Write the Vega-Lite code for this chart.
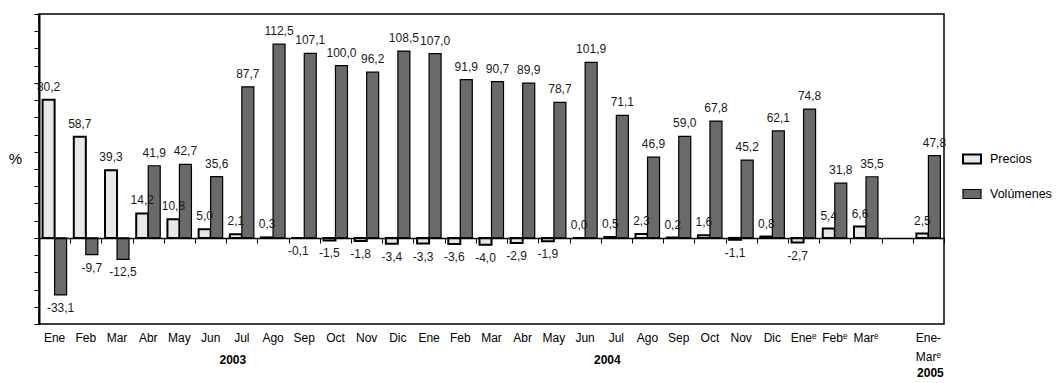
{
  "$schema": "https://vega.github.io/schema/vega-lite/v6.json",
  "width": 905,
  "height": 310,
  "autosize": "none",
  "padding": {"left": 39, "top": 14, "right": 119, "bottom": 59},
  "background": "white",
  "config": {
    "view": {"stroke": "black", "strokeWidth": 1.5},
    "font": "Liberation Sans",
    "locale": {"number": {"decimal": ",", "thousands": ".", "grouping": [3], "currency": ["", ""], "minus": "-"}}
  },
  "data": {"values": [
    {"cat": "Ene|2003", "serie": "Precios", "valor": 80.2},
    {"cat": "Feb|2003", "serie": "Precios", "valor": 58.7},
    {"cat": "Mar|2003", "serie": "Precios", "valor": 39.3},
    {"cat": "Abr|2003", "serie": "Precios", "valor": 14.2},
    {"cat": "May|2003", "serie": "Precios", "valor": 10.8},
    {"cat": "Jun|2003", "serie": "Precios", "valor": 5.0},
    {"cat": "Jul|2003", "serie": "Precios", "valor": 2.1},
    {"cat": "Ago|2003", "serie": "Precios", "valor": 0.3},
    {"cat": "Sep|2003", "serie": "Precios", "valor": -0.1},
    {"cat": "Oct|2003", "serie": "Precios", "valor": -1.5},
    {"cat": "Nov|2003", "serie": "Precios", "valor": -1.8},
    {"cat": "Dic|2003", "serie": "Precios", "valor": -3.4},
    {"cat": "Ene|2004", "serie": "Precios", "valor": -3.3},
    {"cat": "Feb|2004", "serie": "Precios", "valor": -3.6},
    {"cat": "Mar|2004", "serie": "Precios", "valor": -4.0},
    {"cat": "Abr|2004", "serie": "Precios", "valor": -2.9},
    {"cat": "May|2004", "serie": "Precios", "valor": -1.9},
    {"cat": "Jun|2004", "serie": "Precios", "valor": 0.0},
    {"cat": "Jul|2004", "serie": "Precios", "valor": 0.5},
    {"cat": "Ago|2004", "serie": "Precios", "valor": 2.3},
    {"cat": "Sep|2004", "serie": "Precios", "valor": 0.2},
    {"cat": "Oct|2004", "serie": "Precios", "valor": 1.6},
    {"cat": "Nov|2004", "serie": "Precios", "valor": -1.1},
    {"cat": "Dic|2004", "serie": "Precios", "valor": 0.8},
    {"cat": "Eneᵉ|2005", "serie": "Precios", "valor": -2.7},
    {"cat": "Febᵉ|2005", "serie": "Precios", "valor": 5.4},
    {"cat": "Marᵉ|2005", "serie": "Precios", "valor": 6.6},
    {"cat": "Ene-Marᵉ|2005", "serie": "Precios", "valor": 2.5},
    {"cat": "Ene|2003", "serie": "Volúmenes", "valor": -33.1},
    {"cat": "Feb|2003", "serie": "Volúmenes", "valor": -9.7},
    {"cat": "Mar|2003", "serie": "Volúmenes", "valor": -12.5},
    {"cat": "Abr|2003", "serie": "Volúmenes", "valor": 41.9},
    {"cat": "May|2003", "serie": "Volúmenes", "valor": 42.7},
    {"cat": "Jun|2003", "serie": "Volúmenes", "valor": 35.6},
    {"cat": "Jul|2003", "serie": "Volúmenes", "valor": 87.7},
    {"cat": "Ago|2003", "serie": "Volúmenes", "valor": 112.5},
    {"cat": "Sep|2003", "serie": "Volúmenes", "valor": 107.1},
    {"cat": "Oct|2003", "serie": "Volúmenes", "valor": 100.0},
    {"cat": "Nov|2003", "serie": "Volúmenes", "valor": 96.2},
    {"cat": "Dic|2003", "serie": "Volúmenes", "valor": 108.5},
    {"cat": "Ene|2004", "serie": "Volúmenes", "valor": 107.0},
    {"cat": "Feb|2004", "serie": "Volúmenes", "valor": 91.9},
    {"cat": "Mar|2004", "serie": "Volúmenes", "valor": 90.7},
    {"cat": "Abr|2004", "serie": "Volúmenes", "valor": 89.9},
    {"cat": "May|2004", "serie": "Volúmenes", "valor": 78.7},
    {"cat": "Jun|2004", "serie": "Volúmenes", "valor": 101.9},
    {"cat": "Jul|2004", "serie": "Volúmenes", "valor": 71.1},
    {"cat": "Ago|2004", "serie": "Volúmenes", "valor": 46.9},
    {"cat": "Sep|2004", "serie": "Volúmenes", "valor": 59.0},
    {"cat": "Oct|2004", "serie": "Volúmenes", "valor": 67.8},
    {"cat": "Nov|2004", "serie": "Volúmenes", "valor": 45.2},
    {"cat": "Dic|2004", "serie": "Volúmenes", "valor": 62.1},
    {"cat": "Eneᵉ|2005", "serie": "Volúmenes", "valor": 74.8},
    {"cat": "Febᵉ|2005", "serie": "Volúmenes", "valor": 31.8},
    {"cat": "Marᵉ|2005", "serie": "Volúmenes", "valor": 35.5},
    {"cat": "Ene-Marᵉ|2005", "serie": "Volúmenes", "valor": 47.8}
  ]},
  "encoding": {
    "y": {
      "field": "valor", "type": "quantitative",
      "scale": {"domain": [-50, 130], "nice": false, "zero": false},
      "axis": {
        "orient": "left", "labels": false, "grid": false,
        "values": [-50, -40, -30, -20, -10, 0, 10, 20, 30, 40, 50, 60, 70, 80, 90, 100, 110, 120, 130],
        "domainColor": "black", "domainWidth": 2, "tickColor": "black", "tickSize": 5, "tickWidth": 1,
        "title": "%", "titleAngle": 0, "titleX": -24, "titleY": 144, "titleAlign": "center",
        "titleBaseline": "middle", "titleFontSize": 15, "titleFontWeight": "normal", "titleFont": "Liberation Sans", "titleColor": "black"
      }
    },
    "xOffset": {"field": "serie", "type": "nominal", "sort": ["Precios", "Volúmenes"], "scale": {"paddingInner": 0, "paddingOuter": 0.3}}
  },
  "layer": [
    {
      "mark": {"type": "bar", "stroke": "black"},
      "encoding": {
        "x": {
          "field": "cat", "type": "nominal",
          "scale": {"domain": ["Ene|2003","Feb|2003","Mar|2003","Abr|2003","May|2003","Jun|2003","Jul|2003","Ago|2003","Sep|2003","Oct|2003","Nov|2003","Dic|2003","Ene|2004","Feb|2004","Mar|2004","Abr|2004","May|2004","Jun|2004","Jul|2004","Ago|2004","Sep|2004","Oct|2004","Nov|2004","Dic|2004","Eneᵉ|2005","Febᵉ|2005","Marᵉ|2005"," ","Ene-Marᵉ|2005"], "paddingInner": 0, "paddingOuter": 0},
          "axis": {"orient": "bottom", "offset": -86, "labels": false, "title": null, "tickBand": "extent", "ticks": true, "tickSize": 5, "tickColor": "black", "domain": true, "domainColor": "black", "domainWidth": 1.5, "zindex": 1}
        },
        "y": {"field": "valor", "type": "quantitative"},
        "strokeWidth": {"field": "serie", "type": "nominal", "scale": {"domain": ["Precios", "Volúmenes"], "range": [2, 1.2]}, "legend": null},
        "fill": {
          "field": "serie", "type": "nominal",
          "scale": {"domain": ["Precios", "Volúmenes"], "range": ["#e8e8e8", "#6a6a6a"]},
          "legend": {
            "title": null, "orient": "none", "legendX": 923, "legendY": 135,
            "symbolType": "M-1,-0.5H1V0.5H-1Z", "symbolSize": 324, "symbolStrokeColor": "black", "symbolStrokeWidth": 1.5,
            "labelFont": "Liberation Sans", "labelFontSize": 12.5, "labelColor": "black", "labelOffset": 8, "rowPadding": 16
          }
        }
      }
    },
    {
      "transform": [{"filter": "datum.valor >= 0"}],
      "mark": {"type": "text", "baseline": "middle", "dy": -13, "fontSize": 12, "color": "#1a1a1a"},
      "encoding": {
        "x": {
          "field": "cat", "type": "nominal",
          "scale": {"domain": ["Ene|2003","Feb|2003","Mar|2003","Abr|2003","May|2003","Jun|2003","Jul|2003","Ago|2003","Sep|2003","Oct|2003","Nov|2003","Dic|2003","Ene|2004","Feb|2004","Mar|2004","Abr|2004","May|2004","Jun|2004","Jul|2004","Ago|2004","Sep|2004","Oct|2004","Nov|2004","Dic|2004","Eneᵉ|2005","Febᵉ|2005","Marᵉ|2005"," ","Ene-Marᵉ|2005"], "paddingInner": 0, "paddingOuter": 0},
          "axis": {"orient": "bottom", "title": null, "ticks": false, "domain": false, "labelAngle": 0, "labelPadding": 8, "labelBaseline": "top", "labelFontSize": 12, "labelColor": "black", "labelLineHeight": 19,
            "labelExpr": "datum.value == 'Ene-Marᵉ|2005' ? ['Ene-', 'Marᵉ'] : split(datum.value, '|')[0]"}
        },
        "text": {"field": "valor", "type": "quantitative", "format": ".1f"}
      }
    },
    {
      "transform": [{"filter": "datum.valor < 0"}],
      "mark": {"type": "text", "baseline": "middle", "dy": 13, "fontSize": 12, "color": "#1a1a1a"},
      "encoding": {
        "x": {
          "field": "cat", "type": "nominal",
          "scale": {"domain": ["Ene|2003","Feb|2003","Mar|2003","Abr|2003","May|2003","Jun|2003","Jul|2003","Ago|2003","Sep|2003","Oct|2003","Nov|2003","Dic|2003","Ene|2004","Feb|2004","Mar|2004","Abr|2004","May|2004","Jun|2004","Jul|2004","Ago|2004","Sep|2004","Oct|2004","Nov|2004","Dic|2004","Eneᵉ|2005","Febᵉ|2005","Marᵉ|2005"," ","Ene-Marᵉ|2005"], "paddingInner": 0, "paddingOuter": 0},
          "axis": {"orient": "bottom", "title": null, "ticks": false, "domain": false, "labelAngle": 0, "labelBaseline": "top", "labelFontSize": 12, "labelFontWeight": "bold", "labelColor": "black",
            "labelPadding": {"condition": {"test": "datum.value == 'Ene-Marᵉ|2005'", "value": 43}, "value": 30},
            "labelOffset": {"condition": {"test": "datum.value == 'Ene-Marᵉ|2005'", "value": 2}, "value": -9},
            "labelExpr": "datum.value == 'Jul|2003' ? '2003' : datum.value == 'Jul|2004' ? '2004' : datum.value == 'Ene-Marᵉ|2005' ? '2005' : ''"}
        },
        "text": {"field": "valor", "type": "quantitative", "format": ".1f"}
      }
    }
  ],
  "resolve": {"axis": {"x": "independent"}}
}
